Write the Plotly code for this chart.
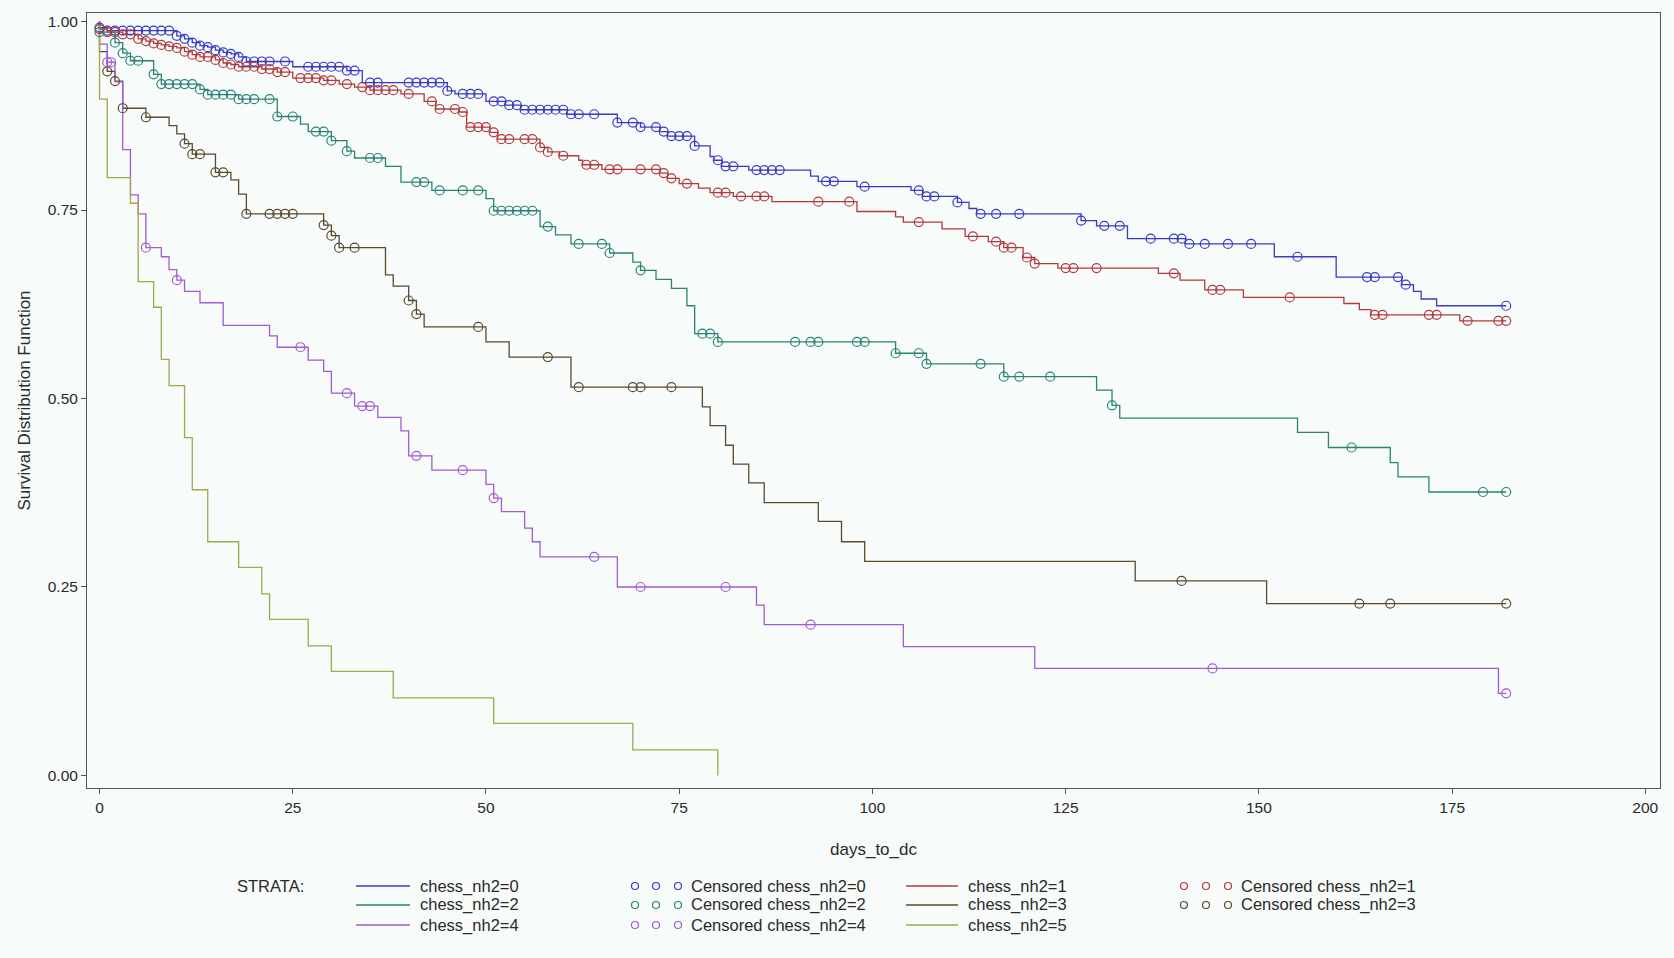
import numpy as np
import plotly.graph_objects as go

# ---------------- data ----------------
# stratum chess_nh2=0 (blue): event times and survival after each step
b_t = [0, 1, 10, 11, 12, 13, 14, 15, 16, 17, 18, 19, 25, 32, 34, 45, 46, 50, 52.5, 54.5,
       60.5, 67, 70, 72.5, 73.5, 77, 79, 79.5, 80.5, 84, 92, 93, 98, 105, 106.5, 111, 112.5,
       113.5, 127, 129, 133, 140.5, 152, 160, 168.5, 170, 171, 173]
b_s = [0.992, 0.988, 0.981, 0.977, 0.972, 0.968, 0.966, 0.962, 0.959, 0.957, 0.953, 0.947,
       0.940, 0.935, 0.919, 0.908, 0.904, 0.894, 0.889, 0.883, 0.877, 0.866, 0.860, 0.854,
       0.848, 0.835, 0.821, 0.816, 0.808, 0.803, 0.795, 0.788, 0.781, 0.776, 0.768, 0.760,
       0.752, 0.745, 0.736, 0.729, 0.712, 0.705, 0.688, 0.661, 0.651, 0.642, 0.632, 0.623]
b_c = [0, 1, 2, 3, 4, 5, 6, 7, 8, 9, 10, 11, 12, 13, 14, 15, 16, 17, 18, 19, 20, 21, 22, 24,
       27, 28, 29, 30, 31, 32, 33, 35, 36, 40, 41, 42, 43, 44, 45, 47, 48, 49, 51, 52, 53, 54,
       55, 56, 57, 58, 59, 60, 61, 62, 64, 67, 69, 70, 72, 73, 74, 75, 76, 77, 80, 81, 82, 85,
       86, 87, 88, 94, 95, 99, 106, 107, 108, 111, 114, 116, 119, 127, 130, 132, 136, 139, 140,
       141, 143, 146, 149, 155, 164, 165, 168, 169, 182]

# stratum chess_nh2=1 (red)
r_t = [0, 1, 3, 5, 6, 7, 8, 9, 10, 11, 12, 13, 15, 16, 17, 18, 21, 23, 25, 29, 31, 33, 35, 39,
       42, 43.5, 46.5, 47.5, 50.5, 51.5, 57, 58, 59.5, 62, 62.5, 65, 72.5, 73.5, 75, 77.5, 79,
       82, 87, 98, 103, 104, 109, 112, 115, 117, 119.5, 121, 124, 137, 139.8, 143, 148, 161,
       163, 164.5, 176]
r_s = [0.990, 0.986, 0.983, 0.977, 0.974, 0.971, 0.969, 0.967, 0.965, 0.960, 0.956, 0.953,
       0.949, 0.945, 0.943, 0.940, 0.937, 0.933, 0.925, 0.922, 0.917, 0.913, 0.909, 0.904,
       0.894, 0.884, 0.880, 0.860, 0.853, 0.844, 0.833, 0.827, 0.822, 0.816, 0.810, 0.804,
       0.799, 0.792, 0.785, 0.779, 0.773, 0.768, 0.761, 0.748, 0.741, 0.734, 0.725, 0.715,
       0.708, 0.700, 0.687, 0.679, 0.673, 0.666, 0.657, 0.644, 0.634, 0.626, 0.618, 0.611,
       0.603]
r_c = [0, 1, 2, 3, 4, 5, 6, 7, 8, 9, 10, 11, 12, 13, 14, 15, 16, 17, 18, 19, 20, 21, 22, 23,
       24, 26, 27, 28, 29, 30, 32, 34, 35, 36, 37, 38, 40, 43, 44, 46, 47, 48, 49, 50, 51, 52,
       53, 55, 56, 57, 58, 60, 63, 64, 66, 67, 70, 72, 73, 74, 76, 80, 81, 83, 85, 86, 93, 97,
       106, 113, 116, 117, 118, 120, 121, 125, 126, 129, 139, 144, 145, 154, 165, 166, 172,
       173, 177, 181, 182]

# stratum chess_nh2=2 (teal)
t_t = [0, 2, 3, 4, 7, 8, 13, 14, 18, 23, 26, 27, 30, 32, 33, 37, 39, 43, 50, 51, 57, 59, 61,
       66, 69, 70, 72, 74, 76, 77, 80, 103, 107, 117, 129, 131, 132, 155, 159, 167, 168, 172]
t_s = [0.986, 0.972, 0.958, 0.948, 0.930, 0.917, 0.910, 0.903, 0.897, 0.874, 0.864, 0.854,
       0.842, 0.828, 0.819, 0.808, 0.787, 0.776, 0.765, 0.749, 0.728, 0.717, 0.705, 0.693,
       0.681, 0.670, 0.658, 0.646, 0.623, 0.586, 0.575, 0.560, 0.546, 0.529, 0.511, 0.491,
       0.474, 0.455, 0.435, 0.415, 0.396, 0.376]
t_c = [0, 2, 3, 4, 5, 7, 8, 9, 10, 11, 12, 13, 14, 15, 16, 17, 18, 19, 20, 22, 23, 25, 28, 29,
       30, 32, 35, 36, 41, 42, 44, 47, 49, 51, 52, 53, 54, 55, 56, 58, 62, 65, 66, 70, 78, 79,
       80, 90, 92, 93, 98, 99, 103, 106, 107, 114, 117, 119, 123, 131, 162, 179, 182]

# stratum chess_nh2=3 (brown)
br_t = [0, 1, 2, 3, 6, 9, 10, 11, 12, 15, 17, 18, 19, 29, 30, 31, 37, 38, 40, 41, 42, 50, 53,
        61, 78, 79, 81, 82, 84, 86, 93, 96, 99, 134, 151]
br_s = [0.960, 0.934, 0.921, 0.885, 0.873, 0.862, 0.851, 0.838, 0.824, 0.800, 0.790, 0.771,
        0.745, 0.730, 0.716, 0.700, 0.664, 0.649, 0.630, 0.612, 0.595, 0.575, 0.555, 0.515,
        0.489, 0.464, 0.438, 0.413, 0.388, 0.362, 0.337, 0.310, 0.284, 0.258, 0.228]
br_c = [1, 2, 3, 6, 11, 12, 13, 15, 16, 19, 22, 23, 24, 25, 29, 30, 31, 33, 40, 41, 49, 58, 62,
        69, 70, 74, 140, 163, 167, 182]

# stratum chess_nh2=4 (purple)
p_t = [0, 1, 2, 3, 4, 5, 6, 8, 9, 10, 11, 13, 16, 22, 23, 27, 29, 30, 33, 36, 39, 40, 43, 50,
       51, 52, 55, 56, 57, 67, 85, 86, 104, 121, 181]
p_s = [0.970, 0.946, 0.920, 0.830, 0.770, 0.745, 0.700, 0.688, 0.671, 0.657, 0.642, 0.627,
       0.597, 0.583, 0.568, 0.551, 0.536, 0.507, 0.490, 0.475, 0.457, 0.424, 0.405, 0.386,
       0.368, 0.350, 0.328, 0.310, 0.290, 0.250, 0.226, 0.200, 0.171, 0.142, 0.109]
p_c = [1, 1.5, 6, 10, 26, 32, 34, 35, 41, 47, 51, 64, 70, 81, 92, 144, 182]

# stratum chess_nh2=5 (olive), no censored observations
o_t = [0, 1, 4, 5, 7, 8, 9, 11, 12, 14, 18, 21, 22, 27, 30, 38, 51, 69, 80]
o_s = [0.897, 0.793, 0.759, 0.655, 0.621, 0.552, 0.517, 0.448, 0.379, 0.310, 0.276, 0.241,
       0.207, 0.172, 0.138, 0.103, 0.069, 0.034, 0.0]

strata_labels = ["chess_nh2=0", "chess_nh2=1", "chess_nh2=2", "chess_nh2=3", "chess_nh2=4",
                 "chess_nh2=5"]
x_ticks = [0, 25, 50, 75, 100, 125, 150, 175, 200]
y_ticks = [0.0, 0.25, 0.5, 0.75, 1.0]

# ---------------- styling ----------------
COL = {
    "0": "#3a3ac6",
    "1": "#b3393c",
    "2": "#2a8475",
    "3": "#5b4a2f",
    "4": "#a35bd3",
    "5": "#a3a84b",
}
BG = "#f7fbf9"
FONT = "Liberation Sans, Arial, sans-serif"
TXT = "#2a2a2a"

W, H = 1674, 958
ML, MR, MT, MB = 87, 14, 13, 170
PW, PH = W - ML - MR, H - MT - MB


def px(X):
    return (X - ML) / PW


def py(Y):
    return (H - MB - Y) / PH


def km_at(times, surv, c):
    times = np.asarray(times, float)
    surv = np.asarray(surv, float)
    idx = np.searchsorted(times, np.asarray(c, float), side="right") - 1
    return np.where(idx >= 0, surv[np.clip(idx, 0, None)], 1.0)


fig = go.Figure()

series = [
    ("0", b_t, b_s, b_c, 182),
    ("1", r_t, r_s, r_c, 182),
    ("2", t_t, t_s, t_c, 182),
    ("3", br_t, br_s, br_c, 182),
    ("4", p_t, p_s, p_c, 182),
    ("5", o_t, o_s, [], None),
]

for key, tt, ss, cc, end in series:
    xs = [0] + list(tt)
    ys = [1.0] + list(ss)
    if end is not None and end > tt[-1]:
        xs.append(end)
        ys.append(ss[-1])
    fig.add_trace(go.Scatter(x=xs, y=ys, mode="lines", line=dict(color=COL[key], width=1.3, shape="hv"),
                             showlegend=False, hoverinfo="skip"))

for key, tt, ss, cc, end in series:
    if len(cc) == 0:
        continue
    fig.add_trace(go.Scatter(x=cc, y=km_at(tt, ss, cc), mode="markers",
                             marker=dict(symbol="circle-open", size=9, color=COL[key],
                                         line=dict(width=1.2, color=COL[key])),
                             showlegend=False, hoverinfo="skip"))

fig.update_xaxes(range=[-1.62, 201.9], tickvals=x_ticks, ticktext=[str(v) for v in x_ticks],
                 showline=True, linecolor="#555555", linewidth=1, mirror=True,
                 ticks="outside", ticklen=5, tickcolor="#555555", showgrid=False, zeroline=False,
                 tickfont=dict(family=FONT, size=15.5, color=TXT),
                 title=dict(text="days_to_dc", font=dict(family=FONT, size=17, color=TXT), standoff=28))
fig.update_yaxes(range=[-0.0166, 1.0113], tickvals=y_ticks, ticktext=["%.2f" % v for v in y_ticks],
                 showline=True, linecolor="#555555", linewidth=1, mirror=True,
                 ticks="outside", ticklen=5, tickcolor="#555555", showgrid=False, zeroline=False,
                 tickfont=dict(family=FONT, size=15.5, color=TXT),
                 title=dict(text="Survival Distribution Function", font=dict(family=FONT, size=17, color=TXT),
                            standoff=12))

# ---------------- legend (drawn like SAS) ----------------
shapes = []
annotations = []
rows = [886, 905, 925]
LFS = 16.5

annotations.append(dict(x=px(235), y=py(rows[0]), xref="paper", yref="paper", text="STRATA:",
                        showarrow=False, xanchor="left", yanchor="middle",
                        font=dict(family=FONT, size=LFS, color=TXT)))


def legend_line(x0, x1, row, key, label):
    shapes.append(dict(type="line", xref="paper", yref="paper", x0=px(x0), x1=px(x1),
                       y0=py(row), y1=py(row), line=dict(color=COL[key], width=1.5)))
    annotations.append(dict(x=px(x1 + 8), y=py(row), xref="paper", yref="paper", text=label,
                            showarrow=False, xanchor="left", yanchor="middle",
                            font=dict(family=FONT, size=LFS, color=TXT)))


def legend_cens(xs, row, key, label):
    r = 3.5
    for xc in xs:
        shapes.append(dict(type="circle", xref="paper", yref="paper",
                           x0=px(xc - r), x1=px(xc + r), y0=py(row + r), y1=py(row - r),
                           line=dict(color=COL[key], width=1.2)))
    annotations.append(dict(x=px(xs[-1] + 11), y=py(row), xref="paper", yref="paper", text=label,
                            showarrow=False, xanchor="left", yanchor="middle",
                            font=dict(family=FONT, size=LFS, color=TXT)))


legend_line(356, 410, rows[0], "0", strata_labels[0])
legend_line(356, 410, rows[1], "2", strata_labels[2])
legend_line(356, 410, rows[2], "4", strata_labels[4])
legend_cens([635, 656, 678], rows[0], "0", "Censored " + strata_labels[0])
legend_cens([635, 656, 678], rows[1], "2", "Censored " + strata_labels[2])
legend_cens([635, 656, 678], rows[2], "4", "Censored " + strata_labels[4])
legend_line(906, 958, rows[0], "1", strata_labels[1])
legend_line(906, 958, rows[1], "3", strata_labels[3])
legend_line(906, 958, rows[2], "5", strata_labels[5])
legend_cens([1184, 1206, 1228], rows[0], "1", "Censored " + strata_labels[1])
legend_cens([1184, 1206, 1228], rows[1], "3", "Censored " + strata_labels[3])

fig.update_layout(width=W, height=H, margin=dict(l=ML, r=MR, t=MT, b=MB),
                  paper_bgcolor=BG, plot_bgcolor=BG, showlegend=False,
                  shapes=shapes, annotations=annotations,
                  font=dict(family=FONT, color=TXT))

# remove the default 8px page margin so the figure sits at the window's origin
fig.write_html("out.html", config={"displayModeBar": False},
               post_script="document.body.style.margin='0';document.body.style.background='%s';" % BG)
